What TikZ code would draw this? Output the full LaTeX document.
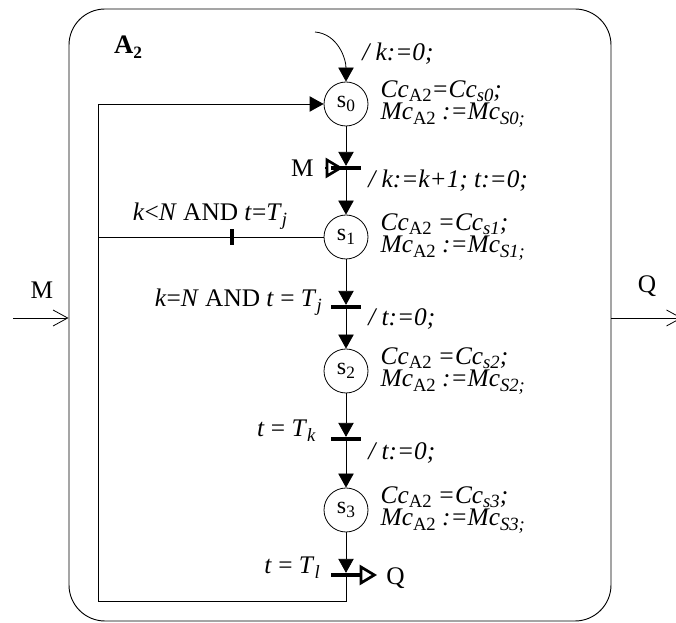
\documentclass[tikz,border=0pt]{standalone}
\usepackage{fontspec}
\setmainfont{Liberation Serif}
\usetikzlibrary{arrows.meta, positioning}

\newcommand{\sbs}[1]{\raisebox{-0.4ex}{\fontsize{14pt}{14pt}\selectfont #1}}
\newcommand{\stsub}[1]{\raisebox{-0.4ex}{\fontsize{13pt}{13pt}\selectfont #1}}

\begin{document}
\begin{tikzpicture}[
    x={(0.75pt,0pt)}, y={(0pt,-0.75pt)},
    >={Triangle[length=10.5pt,width=11.5pt]},
    every node/.style={font=\fontsize{19pt}{15.5pt}\selectfont, inner sep=0pt},
    state/.style={draw, circle, minimum size=33pt, line width=0.6pt,
                  font=\fontsize{18pt}{18pt}\selectfont},
    flow/.style={->, line width=0.6pt},
    line/.style={line width=0.6pt},
    bar/.style={fill, minimum width=23pt, minimum height=2.8pt},
    tick/.style={fill, minimum width=2.6pt, minimum height=12pt},
    evt/.style={-{Triangle[open,length=13pt,width=15pt,line width=2pt]}, line width=2pt},
    io/.style={-{Straight Barb[length=11pt,width=12pt]}, line width=0.6pt},
    info/.style={align=left, font=\fontsize{19pt}{16pt}\selectfont\itshape},
    act/.style={font=\fontsize{19pt}{15.5pt}\selectfont\itshape}
  ]
  \useasboundingbox (0,0) rectangle (676,623);

  % the block A2
  \node[draw, line width=0.7pt, rounded corners=27pt,
        minimum width=406.5pt, minimum height=459pt] (box) at (340,315) {};
  \node[font=\fontsize{20pt}{16pt}\selectfont\bfseries] (name) at (128,47) {A\stsub{2}};

  % input and output
  \coordinate (inM) at (13,318);
  \coordinate (outQ) at (682,318);
  \draw[io] (inM) -- (inM -| box.west);
  \draw[io] (outQ -| box.east) -- (outQ);
  \node (lblM) at (42,290) {M};
  \node (lblQ) at (647,286) {Q};

  % states
  \node[state] (s0) at (346,104) {s\stsub{0}};
  \node[state] (s1) at (346,237) {s\stsub{1}};
  \node[state] (s2) at (346,371) {s\stsub{2}};
  \node[state] (s3) at (346,510) {s\stsub{3}};

  % transitions
  \node[bar] (b1) at (346,168) {};
  \node[bar] (b2) at (346,307) {};
  \node[bar] (b3) at (346,439) {};
  \node[bar] (b4) at (346,575) {};
  \node[tick] (b5) at (232,237) {};

  % initial arrow
  \coordinate (init) at (315,32);
  \draw[flow] (init) to[out=-5, in=90] (s0.north);
  \node[act, anchor=west] (a0) at (362,54) {/ k:=0;};

  % main chain
  \draw[flow] (s0) -- (b1);
  \draw[flow] (b1) -- (s1);
  \draw[flow] (s1) -- (b2);
  \draw[flow] (b2) -- (s2);
  \draw[flow] (s2) -- (b3);
  \draw[flow] (b3) -- (s3);
  \draw[flow] (s3) -- (b4);

  % feedback loops
  \coordinate (c1) at (346,601);
  \coordinate (c2) at (98,601);
  \coordinate (c3) at (98,104);
  \coordinate (c4) at (98,237);
  \draw[flow] (b4.center) -- (c1) -- (c2) -- (c3) -- (s0);
  \draw[line] (s1) -- (b5) -- (c4);

  % event M in, event Q out
  \coordinate (mIn) at (325,168);
  \draw[evt] (mIn) -- ++(18,0);
  \coordinate (qOut) at (377,575);
  \draw[evt] (b4.center) -- (qOut);
  \node[anchor=east] (eM) at (314,168) {M};
  \node[anchor=west] (eQ) at (386,578) {Q};

  % state outputs
  \node[info, right=9pt of s0] (o0) {Cc\sbs{\upshape A2}=Cc\sbs{s0};\\Mc\sbs{\upshape A2} :=Mc\sbs{S0;}};
  \node[info, right=9pt of s1] (o1) {Cc\sbs{\upshape A2} =Cc\sbs{s1};\\Mc\sbs{\upshape A2} :=Mc\sbs{S1;}};
  \node[info, right=9pt of s2] (o2) {Cc\sbs{\upshape A2} =Cc\sbs{s2};\\Mc\sbs{\upshape A2} :=Mc\sbs{S2;}};
  \node[info, right=9pt of s3] (o3) {Cc\sbs{\upshape A2} =Cc\sbs{s3};\\Mc\sbs{\upshape A2} :=Mc\sbs{S3;}};

  % actions
  \node[act, anchor=west] (a1) at (368,181) {/ k:=k+1; t:=0;};
  \node[act, anchor=west] (a2) at (368,319) {/ t:=0;};
  \node[act, anchor=west] (a3) at (368,453) {/ t:=0;};

  % conditions
  \node[anchor=east] (g1) at (322,302) {\textit{k}=\textit{N} AND \textit{t} = \textit{T}\sbs{\textit{j}}};
  \node[anchor=east] (g2) at (316,431) {\textit{t} = \textit{T}\sbs{\textit{k}}};
  \node[anchor=east] (g3) at (320,568) {\textit{t} = \textit{T}\sbs{\textit{l}}};
  \node (g4) at (210,216) {\textit{k}<\textit{N} AND \textit{t}=\textit{T}\sbs{\textit{j}}};
\end{tikzpicture}
\end{document}
